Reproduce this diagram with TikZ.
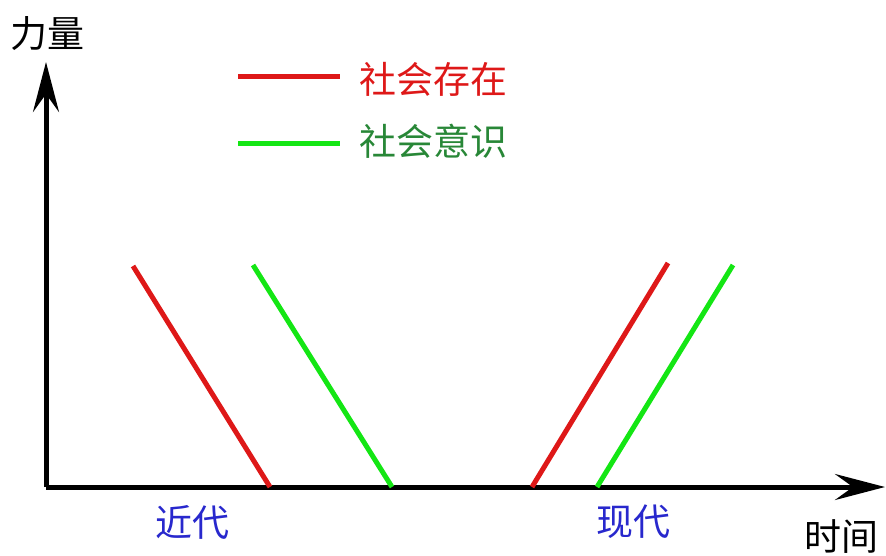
\documentclass[tikz,border=0pt]{standalone}
\usepackage{fontspec}
\setmainfont{Noto Sans CJK SC}
\usepackage{xcolor}
\usetikzlibrary{arrows.meta}

\definecolor{existred}{RGB}{222,24,24}
\definecolor{mindgreen}{RGB}{20,230,20}
\definecolor{mindtext}{RGB}{40,135,55}
\definecolor{eraBlue}{RGB}{40,40,205}

\begin{document}
\begin{tikzpicture}[
  x=1pt, y=-1pt,
  axis/.style={line width=5pt, -{Stealth[length=50pt, width=26pt, inset=18pt]}},
  trend/.style={line width=5pt},
  label/.style={inner sep=0pt, font=\fontsize{37}{40}\selectfont}
]
  \useasboundingbox (0,0) rectangle (886,555);

  % axes
  \coordinate (origin) at (46,487);
  \coordinate (ytip) at (46,62);
  \coordinate (xtip) at (885,487);
  \draw[axis] (origin) -- (ytip);
  \draw[axis] (origin) -- (xtip);
  \node[label] (force) at (47,34) {力量};
  \node[label] (time) at (841,537) {时间};

  % legend
  \coordinate (redA) at (238,76);
  \coordinate (redB) at (340,76);
  \coordinate (greenA) at (238,143);
  \coordinate (greenB) at (340,143);
  \draw[trend, existred] (redA) -- (redB);
  \draw[trend, mindgreen] (greenA) -- (greenB);
  \node[label, text=existred] (exist) at (433,79) {社会存在};
  \node[label, text=mindtext] (mind) at (433,141) {社会意识};

  % early modern
  \coordinate (r1top) at (133,266);
  \coordinate (r1bot) at (270,487);
  \coordinate (g1top) at (253,265);
  \coordinate (g1bot) at (392,487);
  \draw[trend, existred] (r1top) -- (r1bot);
  \draw[trend, mindgreen] (g1top) -- (g1bot);
  \node[label, text=eraBlue] (early) at (192,522) {近代};

  % modern
  \coordinate (r2bot) at (532,487);
  \coordinate (r2top) at (668,263);
  \coordinate (g2bot) at (597,487);
  \coordinate (g2top) at (733,265);
  \draw[trend, existred] (r2bot) -- (r2top);
  \draw[trend, mindgreen] (g2bot) -- (g2top);
  \node[label, text=eraBlue] (modern) at (633,522) {现代};
\end{tikzpicture}
\end{document}
